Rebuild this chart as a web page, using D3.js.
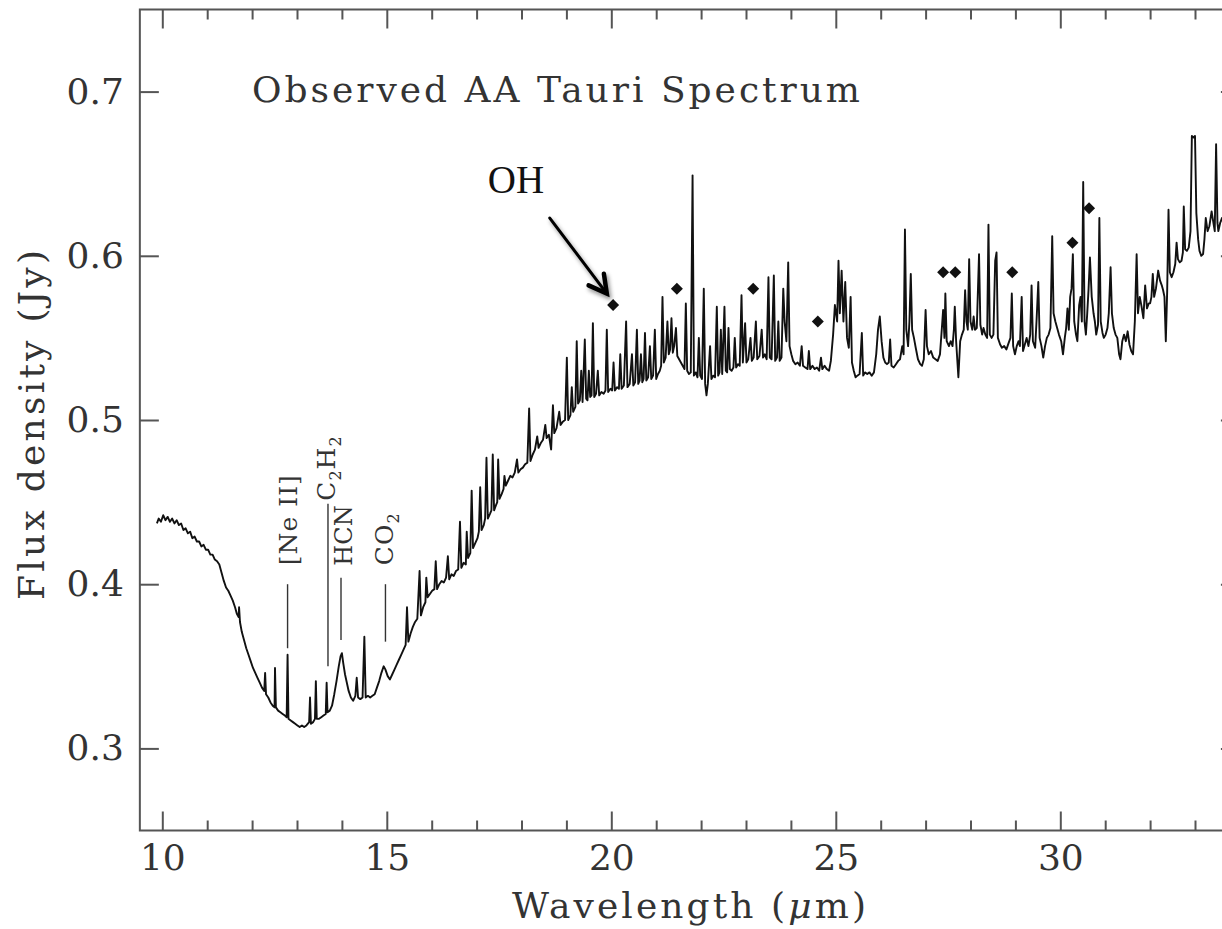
<!DOCTYPE html>
<html><head><meta charset="utf-8">
<script src="https://cdn.jsdelivr.net/npm/d3@7"></script>
<style>html,body{margin:0;padding:0;background:#fff;overflow:hidden}</style>
</head><body><svg id="c" width="1222" height="929"></svg>
<script>
// Observed AA Tauri spectrum: [wavelength (um), flux density (Jy)]
const spectrum = [
[9.88,0.437],[9.92,0.440],[9.97,0.438],[10.02,0.442],[10.07,0.439],[10.12,0.441],[10.17,0.438],[10.22,0.440],[10.27,0.437],[10.32,0.439],[10.37,0.436],[10.42,0.437],[10.47,0.433],[10.52,0.434],[10.57,0.431],[10.62,0.432],[10.67,0.428],[10.72,0.429],[10.77,0.426],[10.82,0.426],[10.87,0.423],[10.92,0.424],[10.97,0.421],[11.02,0.421],[11.07,0.418],[11.12,0.418],[11.17,0.415],[11.22,0.414],[11.27,0.412],[11.32,0.407],[11.37,0.402],[11.42,0.398],[11.47,0.396],[11.52,0.393],[11.57,0.390],[11.62,0.386],[11.66,0.382],[11.70,0.380],[11.71,0.386],[11.73,0.377],[11.77,0.371],[11.82,0.366],[11.87,0.361],[11.92,0.357],[11.97,0.353],[12.02,0.349],[12.07,0.346],[12.12,0.343],[12.17,0.340],[12.22,0.337],[12.27,0.335],[12.29,0.346],[12.31,0.333],[12.36,0.331],[12.41,0.328],[12.46,0.326],[12.50,0.325],[12.51,0.349],[12.53,0.325],[12.58,0.323],[12.63,0.322],[12.68,0.321],[12.73,0.320],[12.77,0.319],[12.79,0.357],[12.81,0.318],[12.86,0.317],[12.91,0.316],[12.96,0.315],[13.01,0.314],[13.06,0.313],[13.11,0.314],[13.16,0.313],[13.21,0.314],[13.27,0.316],[13.29,0.331],[13.31,0.315],[13.36,0.316],[13.40,0.318],[13.42,0.341],[13.44,0.318],[13.49,0.318],[13.54,0.319],[13.59,0.320],[13.64,0.321],[13.66,0.340],[13.68,0.322],[13.73,0.323],[13.78,0.326],[13.83,0.333],[13.88,0.341],[13.93,0.350],[13.97,0.356],[14.00,0.358],[14.03,0.352],[14.07,0.345],[14.11,0.340],[14.15,0.335],[14.20,0.331],[14.25,0.329],[14.30,0.332],[14.33,0.343],[14.36,0.331],[14.41,0.330],[14.46,0.331],[14.50,0.368],[14.53,0.331],[14.58,0.332],[14.63,0.331],[14.68,0.332],[14.73,0.333],[14.78,0.337],[14.83,0.341],[14.88,0.346],[14.93,0.350],[14.97,0.348],[15.02,0.344],[15.07,0.342],[15.12,0.345],[15.17,0.348],[15.22,0.351],[15.27,0.354],
[15.32,0.357],[15.37,0.360],[15.42,0.363],[15.45,0.386],[15.48,0.365],[15.53,0.370],[15.58,0.374],[15.63,0.377],[15.68,0.379],[15.73,0.408],[15.76,0.381],[15.81,0.386],[15.86,0.389],[15.88,0.404],[15.91,0.392],[15.96,0.394],[16.01,0.396],[16.06,0.397],[16.09,0.414],[16.12,0.397],[16.17,0.400],[16.22,0.402],[16.27,0.401],[16.32,0.404],[16.36,0.417],[16.39,0.403],[16.44,0.406],[16.49,0.405],[16.54,0.408],[16.59,0.409],[16.63,0.438],[16.66,0.410],[16.71,0.413],[16.76,0.412],[16.78,0.432],[16.81,0.416],[16.86,0.419],[16.89,0.457],[16.92,0.422],[16.97,0.425],[17.02,0.428],[17.05,0.432],[17.08,0.459],[17.11,0.433],[17.16,0.436],[17.19,0.440],[17.22,0.477],[17.25,0.440],[17.30,0.443],[17.33,0.445],[17.36,0.479],[17.39,0.445],[17.43,0.448],[17.46,0.450],[17.48,0.476],[17.51,0.452],[17.56,0.455],[17.60,0.458],[17.62,0.466],[17.65,0.460],[17.70,0.463],[17.75,0.466],[17.80,0.465],[17.85,0.468],[17.90,0.476],[17.93,0.468],[17.98,0.470],[18.03,0.471],[18.08,0.473],[18.13,0.474],[18.17,0.507],[18.20,0.475],[18.25,0.479],[18.30,0.482],[18.35,0.490],[18.38,0.483],[18.43,0.486],[18.48,0.488],[18.53,0.497],[18.56,0.489],[18.61,0.491],[18.66,0.482],[18.70,0.509],[18.73,0.492],[18.78,0.495],[18.84,0.505],[18.87,0.497],[18.92,0.499],[18.97,0.500],[19.01,0.538],[19.04,0.500],[19.09,0.503],[19.12,0.520],[19.15,0.505],[19.20,0.508],[19.23,0.548],[19.26,0.510],[19.30,0.512],[19.33,0.530],[19.36,0.511],[19.41,0.549],[19.44,0.513],[19.47,0.512],[19.50,0.530],[19.53,0.514],[19.56,0.515],[19.59,0.559],[19.62,0.514],
[19.66,0.516],[19.70,0.530],[19.73,0.515],[19.78,0.517],[19.83,0.516],[19.87,0.518],[19.90,0.555],[19.93,0.517],[19.98,0.519],[20.02,0.518],[20.05,0.535],[20.08,0.518],[20.13,0.520],[20.17,0.519],[20.20,0.540],[20.23,0.519],[20.28,0.521],[20.33,0.560],[20.36,0.520],[20.41,0.522],[20.46,0.540],[20.49,0.521],[20.53,0.523],[20.57,0.555],[20.60,0.522],[20.63,0.524],[20.66,0.540],[20.69,0.523],[20.72,0.525],[20.75,0.553],[20.78,0.524],[20.82,0.526],[20.86,0.545],[20.89,0.525],[20.93,0.527],[20.97,0.555],[21.00,0.525],[21.04,0.528],[21.08,0.530],[21.11,0.533],[21.14,0.575],[21.17,0.535],[21.21,0.538],[21.25,0.560],[21.28,0.540],[21.31,0.543],[21.34,0.562],[21.37,0.541],[21.40,0.545],[21.44,0.556],[21.47,0.539],[21.51,0.537],[21.55,0.535],[21.59,0.533],[21.63,0.531],[21.66,0.571],[21.69,0.530],[21.73,0.528],[21.77,0.529],[21.81,0.649],[21.84,0.527],[21.88,0.529],[21.92,0.526],[21.95,0.550],[21.98,0.527],[22.02,0.525],[22.06,0.580],[22.09,0.522],[22.12,0.515],[22.15,0.522],[22.20,0.545],[22.23,0.525],[22.27,0.527],[22.31,0.526],[22.35,0.569],[22.38,0.527],[22.41,0.529],[22.44,0.555],[22.47,0.528],[22.52,0.569],[22.55,0.530],[22.58,0.529],[22.61,0.556],[22.64,0.531],[22.68,0.530],[22.72,0.532],[22.75,0.550],[22.78,0.532],[22.82,0.534],[22.86,0.533],[22.90,0.576],[22.93,0.535],[22.98,0.559],[23.01,0.535],[23.05,0.537],[23.10,0.550],[23.13,0.536],[23.17,0.538],[23.22,0.560],[23.25,0.537],[23.30,0.539],[23.35,0.555],[23.38,0.538],[23.42,0.540],[23.46,0.537],[23.50,0.587],[23.53,0.538],[23.57,0.537],[23.62,0.588],[23.65,0.536],[23.69,0.538],[23.72,0.560],[23.75,0.536],[23.79,0.538],[23.83,0.580],[23.86,0.560],[23.90,0.548],[23.94,0.596],[23.97,0.545],[24.01,0.540],[24.05,0.536],[24.10,0.534],
[24.15,0.535],[24.20,0.533],[24.24,0.545],[24.27,0.533],[24.32,0.532],[24.37,0.531],[24.40,0.542],[24.43,0.531],[24.48,0.533],[24.53,0.531],[24.58,0.532],[24.63,0.530],[24.67,0.538],[24.70,0.531],[24.75,0.533],[24.80,0.531],[24.85,0.530],[24.89,0.536],[24.94,0.552],[24.98,0.570],[25.03,0.560],[25.06,0.597],[25.09,0.565],[25.13,0.591],[25.17,0.560],[25.21,0.584],[25.25,0.550],[25.29,0.544],[25.33,0.575],[25.36,0.535],[25.40,0.530],[25.44,0.526],[25.48,0.527],[25.53,0.528],[25.58,0.553],[25.61,0.527],[25.65,0.529],[25.70,0.528],[25.75,0.529],[25.80,0.527],[25.85,0.529],[25.90,0.540],[25.94,0.555],[25.98,0.563],[26.02,0.548],[26.06,0.538],[26.10,0.535],[26.14,0.534],[26.18,0.535],[26.21,0.549],[26.24,0.533],[26.29,0.532],[26.34,0.534],[26.39,0.536],[26.43,0.537],[26.48,0.545],[26.51,0.540],[26.54,0.616],[26.57,0.555],[26.61,0.545],[26.64,0.560],[26.67,0.589],[26.70,0.555],[26.74,0.550],[26.78,0.544],[26.83,0.537],[26.88,0.534],[26.92,0.533],[26.96,0.537],[27.00,0.567],[27.03,0.545],[27.07,0.540],[27.12,0.542],[27.17,0.538],[27.22,0.537],[27.27,0.536],[27.32,0.540],[27.36,0.555],[27.39,0.567],[27.42,0.550],[27.44,0.577],[27.47,0.548],[27.52,0.545],[27.56,0.548],[27.60,0.545],[27.63,0.555],[27.65,0.569],[27.68,0.548],[27.73,0.526],[27.77,0.548],[27.81,0.552],[27.85,0.555],[27.88,0.579],[27.91,0.560],[27.94,0.555],[27.97,0.598],[28.00,0.560],[28.04,0.555],[28.07,0.563],[28.10,0.555],[28.14,0.556],[28.19,0.601],[28.22,0.558],[28.26,0.552],[28.29,0.556],[28.33,0.552],[28.37,0.550],[28.40,0.619],[28.43,0.552],[28.47,0.550],[28.51,0.552],[28.55,0.597],[28.58,0.602],[28.61,0.550],[28.66,0.546],
[28.70,0.544],[28.75,0.545],[28.80,0.543],[28.85,0.547],[28.89,0.550],[28.92,0.577],[28.95,0.545],[28.99,0.540],[29.03,0.545],[29.07,0.548],[29.10,0.545],[29.14,0.575],[29.17,0.542],[29.21,0.546],[29.25,0.550],[29.29,0.545],[29.33,0.552],[29.36,0.582],[29.39,0.548],[29.44,0.544],[29.47,0.560],[29.51,0.584],[29.54,0.550],[29.58,0.545],[29.62,0.538],[29.66,0.545],[29.70,0.550],[29.74,0.552],[29.78,0.556],[29.82,0.612],[29.85,0.565],[29.89,0.560],[29.93,0.556],[29.97,0.552],[30.02,0.548],[30.06,0.540],[30.10,0.550],[30.13,0.556],[30.16,0.568],[30.19,0.555],[30.22,0.575],[30.25,0.580],[30.28,0.601],[30.31,0.560],[30.35,0.552],[30.38,0.548],[30.42,0.570],[30.45,0.575],[30.48,0.560],[30.51,0.645],[30.54,0.560],[30.57,0.552],[30.60,0.565],[30.63,0.580],[30.66,0.599],[30.70,0.575],[30.74,0.565],[30.77,0.560],[30.80,0.552],[30.84,0.558],[30.87,0.623],[30.90,0.560],[30.94,0.553],[30.97,0.550],[31.01,0.552],[31.05,0.556],[31.08,0.565],[31.12,0.593],[31.15,0.565],[31.19,0.556],[31.23,0.552],[31.27,0.550],[31.31,0.540],[31.34,0.537],[31.38,0.548],[31.42,0.552],[31.46,0.548],[31.50,0.554],[31.54,0.546],[31.58,0.542],[31.62,0.540],[31.66,0.560],[31.70,0.601],[31.73,0.565],[31.77,0.575],[31.81,0.569],[31.85,0.562],[31.89,0.582],[31.93,0.568],[31.97,0.571],[32.00,0.571],[32.03,0.575],[32.06,0.589],[32.09,0.575],[32.13,0.580],[32.18,0.591],[32.22,0.585],[32.26,0.582],[32.29,0.579],[32.32,0.575],[32.35,0.548],[32.38,0.578],[32.41,0.628],[32.44,0.590],[32.48,0.587],[32.52,0.590],[32.56,0.595],[32.59,0.608],[32.62,0.598],[32.66,0.596],[32.70,0.597],[32.73,0.602],[32.75,0.630],[32.78,0.604],[32.82,0.603],[32.86,0.605],[32.90,0.615],[32.93,0.673],[32.97,0.672],[33.00,0.673],[33.03,0.626],[33.07,0.610],[33.10,0.603],[33.14,0.600],[33.18,0.601],[33.21,0.610],[33.24,0.623],[33.28,0.615],[33.32,0.618],[33.37,0.627],[33.41,0.620],[33.44,0.615],[33.47,0.668],[33.50,0.620],[33.52,0.615],[33.56,0.620],[33.60,0.623],[33.65,0.618],[33.70,0.621]
];
// OH line markers (diamonds)
const ohWavelength = [20.04, 21.46, 23.16, 24.60, 27.39, 27.66, 28.93, 30.27, 30.64];
const ohFlux       = [0.570, 0.580, 0.580, 0.560, 0.590, 0.590, 0.590, 0.608, 0.629];
// Molecular / atomic line identifications
const lineNames = ["[Ne II]", "C2H2", "HCN", "CO2"];
const lineWavelength = [12.79, 13.69, 13.98, 14.97];
const lineLow  = [0.361, 0.350, 0.366, 0.365];
const lineHigh = [0.400, 0.449, 0.404, 0.400];
const xMajorTicks = [10, 15, 20, 25, 30];
const yMajorTicks = [0.3, 0.4, 0.5, 0.6, 0.7];
const xDomain = [9.5, 34];
const yDomain = [0.25, 0.75];

const svg = d3.select("#c");
const x = d3.scaleLinear().domain(xDomain).range([139.85, 1239.9]);
const y = d3.scaleLinear().domain(yDomain).range([830.5, 9.5]);
const serif = "'DejaVu Serif', serif";
const axisColor = "#555";
const textColor = "#333";

const defs = svg.append("defs");
defs.append("clipPath").attr("id","plot")
  .append("rect").attr("x", x(xDomain[0])).attr("y", y(yDomain[1]))
  .attr("width", x(xDomain[1]) - x(xDomain[0])).attr("height", y(yDomain[0]) - y(yDomain[1]));

const xMinor = d3.range(10, 35, 1).filter(v => !xMajorTicks.includes(v));

function styleAxis(g){
  g.select(".domain").remove();
  g.selectAll(".tick line").attr("stroke", axisColor).attr("stroke-width", 2);
  g.selectAll("text").attr("fill", textColor).attr("font-family", serif).attr("font-size", 36);
}
// bottom
svg.append("g").attr("transform", `translate(0,${y(yDomain[0])})`)
  .call(d3.axisBottom(x).tickValues(xMajorTicks).tickSize(-19).tickPadding(14).tickFormat(d3.format("d"))).call(styleAxis);
svg.append("g").attr("transform", `translate(0,${y(yDomain[0])})`)
  .call(d3.axisBottom(x).tickValues(xMinor).tickSize(-10).tickFormat("")).call(styleAxis);
// top
svg.append("g").attr("transform", `translate(0,${y(yDomain[1])})`)
  .call(d3.axisTop(x).tickValues(xMajorTicks).tickSize(-19).tickFormat("")).call(styleAxis);
svg.append("g").attr("transform", `translate(0,${y(yDomain[1])})`)
  .call(d3.axisTop(x).tickValues(xMinor).tickSize(-10).tickFormat("")).call(styleAxis);
// left
svg.append("g").attr("transform", `translate(${x(xDomain[0])},0)`)
  .call(d3.axisLeft(y).tickValues(yMajorTicks).tickSize(-19).tickPadding(16).tickFormat(d3.format(".1f"))).call(styleAxis);
// right
svg.append("g").attr("transform", `translate(${x(xDomain[1])},0)`)
  .call(d3.axisRight(y).tickValues(yMajorTicks).tickSize(-19).tickFormat("")).call(styleAxis);

// frame
svg.append("rect").attr("x", x(xDomain[0])).attr("y", y(yDomain[1]))
  .attr("width", x(xDomain[1]) - x(xDomain[0])).attr("height", y(yDomain[0]) - y(yDomain[1]))
  .attr("fill","none").attr("stroke", axisColor).attr("stroke-width", 2);

// spectrum
svg.append("path").datum(spectrum).attr("clip-path","url(#plot)")
  .attr("fill","none").attr("stroke","#111").attr("stroke-width",1.9).attr("stroke-linejoin","round")
  .attr("d", d3.line().x(d => x(d[0])).y(d => y(d[1])));

// line identification ticks
const ids = svg.append("g");
lineNames.forEach((n,i) => {
  ids.append("line").attr("x1", x(lineWavelength[i])).attr("x2", x(lineWavelength[i]))
    .attr("y1", y(lineLow[i])).attr("y2", y(lineHigh[i]))
    .attr("stroke","#333").attr("stroke-width",1.4);
});
const idSize = 25, subSize = 16;
// [Ne II]
ids.append("text").attr("transform", `translate(${x(lineWavelength[0]) + 9},${y(lineHigh[0]) - 19}) rotate(-90)`)
  .attr("font-family", serif).attr("font-size", idSize).attr("fill", textColor)
  .attr("textLength", 90).attr("lengthAdjust","spacing").text(lineNames[0]);
// C2H2
(function(){
  const t = ids.append("text").attr("transform", `translate(${x(lineWavelength[1]) + 7},${y(lineHigh[1]) - 3}) rotate(-90)`)
    .attr("font-family", serif).attr("font-size", idSize).attr("fill", textColor);
  t.append("tspan").text("C");
  t.append("tspan").text("2").attr("font-size",subSize).attr("dy",6).attr("dx",1);
  t.append("tspan").text("H").attr("dy",-6).attr("dx",1);
  t.append("tspan").text("2").attr("font-size",subSize).attr("dy",6).attr("dx",1);
})();
// HCN
ids.append("text").attr("transform", `translate(${x(lineWavelength[2]) + 11},${y(lineHigh[2]) - 12}) rotate(-90)`)
  .attr("font-family", serif).attr("font-size", 24).attr("fill", textColor).text(lineNames[2]);
// CO2
(function(){
  const t = ids.append("text").attr("transform", `translate(${x(lineWavelength[3]) + 8},${y(lineHigh[3]) - 19}) rotate(-90)`)
    .attr("font-family", serif).attr("font-size", idSize).attr("fill", textColor);
  t.append("tspan").text("C");
  t.append("tspan").text("O").attr("dx",1);
  t.append("tspan").text("2").attr("font-size",subSize).attr("dy",6).attr("dx",1);
})();

// OH diamonds
svg.append("g").selectAll("path").data(ohWavelength).join("path")
  .attr("d", d3.symbol(d3.symbolSquare, 72))
  .attr("transform", (d,i) => `translate(${x(d)},${y(ohFlux[i])}) rotate(45)`)
  .attr("fill","#111");

// OH label and arrow
const f = defs.append("filter").attr("id","sh").attr("x","-50%").attr("y","-50%").attr("width","200%").attr("height","200%");
f.append("feDropShadow").attr("dx",2).attr("dy",3).attr("stdDeviation",2).attr("flood-color","#000").attr("flood-opacity",0.45);
svg.append("text").attr("x", x(17.25)).attr("y", y(0.6385)).attr("font-family","'Liberation Serif', serif")
  .attr("font-size", 39).attr("fill","#111").text("OH");
const a0 = [x(18.63), y(0.623)], a1 = [x(19.90), y(0.577)];
const ang = Math.atan2(a1[1]-a0[1], a1[0]-a0[0]);
const hl = 20, hw = 0.5;
const arrow = svg.append("g").attr("filter","url(#sh)").attr("stroke","#000").attr("fill","none")
  .attr("stroke-width",3).attr("stroke-linecap","round").attr("stroke-linejoin","miter");
arrow.append("line").attr("x1",a0[0]).attr("y1",a0[1]).attr("x2",a1[0]).attr("y2",a1[1]);
arrow.append("path").attr("stroke-width",4.5).attr("d", d3.line()([
  [a1[0]-hl*Math.cos(ang-hw), a1[1]-hl*Math.sin(ang-hw)], a1,
  [a1[0]-hl*Math.cos(ang+hw), a1[1]-hl*Math.sin(ang+hw)]]));

// title & axis labels
svg.append("text").attr("x", 252).attr("y", 102).attr("font-family", serif).attr("font-size", 36)
  .attr("fill", textColor).attr("textLength", 608).attr("lengthAdjust","spacing").text("Observed AA Tauri Spectrum");
const xl = svg.append("text").attr("x", 512).attr("y", 918).attr("font-family", serif).attr("font-size", 36)
  .attr("fill", textColor).attr("textLength", 354).attr("lengthAdjust","spacing");
xl.append("tspan").text("Wavelength (");
xl.append("tspan").attr("font-style","italic").text("μ");
xl.append("tspan").text("m)");
svg.append("text").attr("transform","translate(44,600) rotate(-90)").attr("font-family", serif).attr("font-size", 36)
  .attr("fill", textColor).attr("textLength", 350).attr("lengthAdjust","spacing").text("Flux density (Jy)");
</script></body></html>
